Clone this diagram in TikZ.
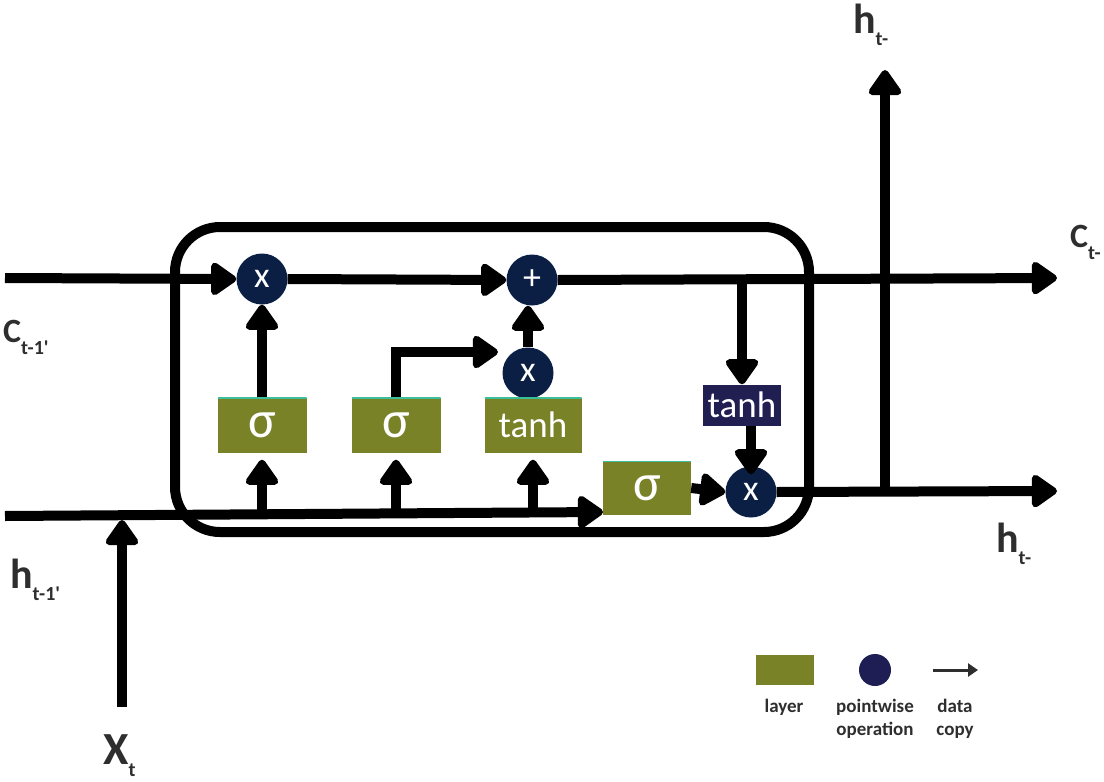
\documentclass[tikz,border=0pt]{standalone}
\usepackage{fontspec}
\setmainfont{Carlito}
\usetikzlibrary{arrows.meta}

\definecolor{layergreen}{HTML}{7A8228}
\definecolor{opnavy}{HTML}{0B1F45}
\definecolor{tanhnavy}{HTML}{211F52}
\definecolor{legnavy}{HTML}{1E1E55}
\definecolor{labelgray}{HTML}{2E2E2E}
\definecolor{edgeteal}{HTML}{3DBE9A}

% state label: big letter with a lowered subscript
\newcommand{\statelabel}[3]{{\fontsize{#1}{#1}\selectfont #2}\raisebox{-12pt}{\fontsize{20}{20}\selectfont #3}}

\begin{document}
\begin{tikzpicture}[x=1pt,y=-1pt,
  flow/.style={line width=10pt,-{Triangle[length=28pt,width=37pt,round]}},
  layerbox/.style={fill=layergreen,text=white,minimum width=89pt,minimum height=55pt,inner sep=0pt,
    font=\fontsize{37}{37}\selectfont,
    path picture={\draw[edgeteal,line width=2pt] (path picture bounding box.north west) -- (path picture bounding box.north east);}},
  sigmatext/.style={font=\fontsize{52}{52}\selectfont},
  tanhbox/.style={fill=tanhnavy,text=white,minimum width=78pt,minimum height=41pt,inner sep=0pt,
    font=\fontsize{37}{37}\selectfont},
  pointop/.style={circle,fill=opnavy,text=white,minimum size=51pt,inner sep=0pt,font=\fontsize{36}{36}\selectfont},
  statelbl/.style={anchor=base west,inner sep=0pt,text=labelgray,font=\bfseries},
  legendtext/.style={anchor=base,inner sep=0pt,text=labelgray,font=\fontsize{19}{19}\selectfont\bfseries}
]
\useasboundingbox (0,0) rectangle (1104,782);

% cell outline
\node[draw,line width=10pt,rounded corners=45pt,minimum width=634pt,minimum height=305pt,inner sep=0pt] (cell) at (492,379.5) {};

% free ends of the outer connectors
\coordinate (cin) at (5,278);
\coordinate (cout) at (1057,278);
\coordinate (hin) at (5,516);
\coordinate (hend) at (603,512);
\coordinate (hout) at (1057,491);
\coordinate (htop) at (885,70);
\coordinate (xin) at (122,707);
\coordinate (igate) at (498,352);

% pointwise operations
\node[pointop] (mulf) at (262,279) {x};
\node[pointop] (add) at (532,280) {+};
\node[pointop] (muli) at (528,373) {x};
\node[pointop] (mulo) at (751,492) {x};

% layers
\node[layerbox,sigmatext] (sf) at (262,425) {σ};
\node[layerbox,sigmatext] (si) at (396,425) {σ};
\node[layerbox,minimum width=97pt] (tc) at (533,425) {tanh};
\node[layerbox,sigmatext,minimum width=88pt,minimum height=54pt] (so) at (647,488) {σ};
\node[tanhbox] (tho) at (742,405) {tanh};

% cell state path
\draw[flow] (cin) -- (mulf.west);
\draw[flow] (mulf.east) -- (add.west);
\draw[flow] (add.east) -- (cout);
\draw[flow] (tho.north |- cout) -- (tho.north);

% gates
\draw[flow] (sf.north) -- (mulf.south);
\draw[flow] (si.north) |- (igate);
\draw[flow] (muli.north) -- (muli.north |- add.south);
\draw[flow,shorten >=-8pt] (mulo.north |- tho.south) -- (mulo.north);
\draw[flow] (so.east) -- (mulo.west);

% hidden state path
\draw[flow] (hin) -- (hend);
\draw[flow,shorten >=7pt] (sf.south |- hin) -- (sf.south);
\draw[flow,shorten >=7pt] (si.south |- hin) -- (si.south);
\draw[flow,shorten >=7pt] (tc.south |- hin) -- (tc.south);
\draw[flow,shorten >=4pt] (xin) -- (xin |- hin);
\draw[flow] (mulo.east) -- (hout);
\draw[flow] (htop |- hout) -- (htop);

% state labels
\node[statelbl] (lcin) at (3,342) {\statelabel{34}{C}{t-1\textquotesingle}};
\node[statelbl] (lhin) at (10,588) {\statelabel{42}{h}{t-1\textquotesingle}};
\node[statelbl] (lxin) at (103,764) {\statelabel{46}{X}{t}};
\node[statelbl] (lhtop) at (853,33) {\statelabel{42}{h}{t-}};
\node[statelbl] (lcout) at (1070,247) {\statelabel{34}{C}{t-}};
\node[statelbl] (lhout) at (996,552) {\statelabel{42}{h}{t-}};

% legend
\node[fill=layergreen,minimum width=58pt,minimum height=30pt,inner sep=0pt] (lglayer) at (785,670) {};
\node[circle,fill=legnavy,minimum size=32pt,inner sep=0pt] (lgop) at (875,670) {};
\coordinate (lga) at (933,670);
\coordinate (lgb) at (978,670);
\draw[line width=3pt,draw=labelgray,-{Triangle[length=10pt,width=13pt]}] (lga) -- (lgb);
\node[legendtext] (tlayer) at (784,712) {layer};
\node[legendtext] (tpoint) at (875,712) {pointwise};
\node[legendtext] (toper) at (875,735) {operation};
\node[legendtext] (tdata) at (955,712) {data};
\node[legendtext] (tcopy) at (955,735) {copy};
\end{tikzpicture}
\end{document}
